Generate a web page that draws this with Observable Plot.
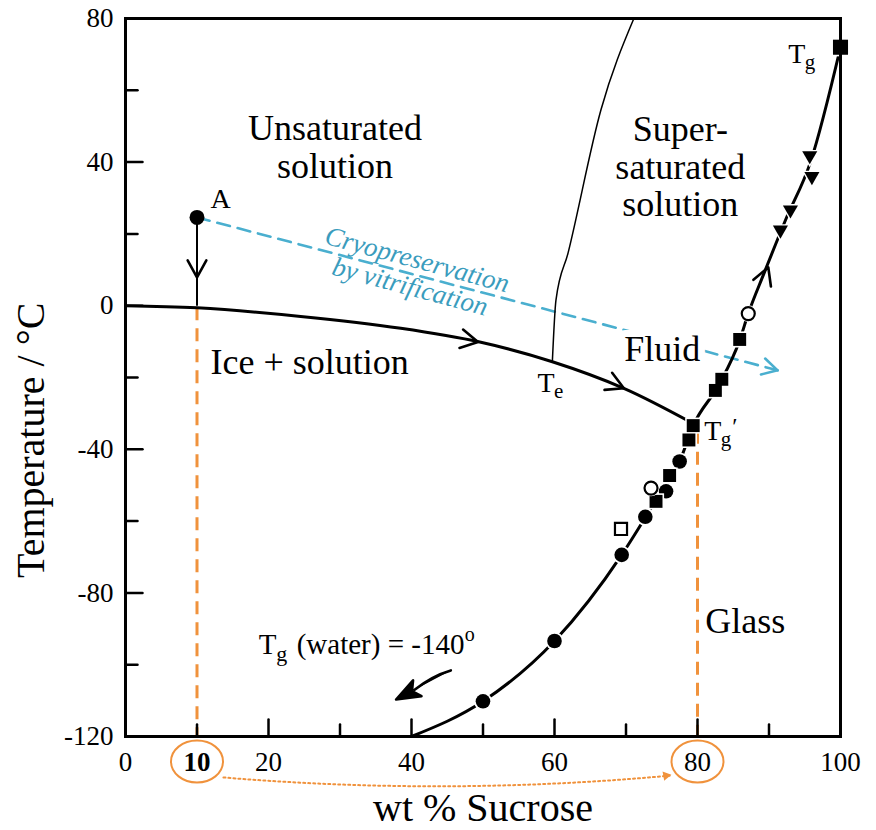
<!DOCTYPE html>
<html><head><meta charset="utf-8">
<script src="https://cdn.jsdelivr.net/npm/d3@7"></script>
<script src="https://cdn.jsdelivr.net/npm/@observablehq/plot@0.6"></script>
<style>body{margin:0;background:#fff;}</style>
</head><body><div id="chart"></div>
<script>
// ---------- data (wt % sucrose, temperature °C) ----------
const liquidusX = [0, 10, 24.5, 38.5, 49.7, 59.7, 69.7, 79.4];
const liquidusT = [0, -0.6, -3.0, -6.3, -10.2, -15.6, -23.0, -32.8];
const solubilityX = [59.7, 60.2, 61.9, 66.5, 71.1];
const solubilityT = [-15.6, 1.5, 14.7, 54.6, 80];
const glassX = [40, 50, 60, 69.4, 72.7, 75, 77.5, 79.4, 83, 85.9, 87.1, 89.3, 92.3, 95.8, 100];
const glassT = [-120, -110.2, -93.4, -69.4, -59, -51.5, -43.4, -33.4, -22, -9.6, -2.2, 9, 23.8, 40, 72];

const filledCircleX = [50, 60, 69.4, 72.7, 75.6, 77.5];
const filledCircleT = [-110.2, -93.4, -69.4, -58.8, -51.7, -43.4];
const filledSquareX = [74.2, 76.1, 78.8, 79.4, 82.5, 83.4, 85.9];
const filledSquareT = [-54.5, -47.3, -37.4, -33.4, -23.6, -20.5, -9.4];
const openCircleX = [73.5, 87.1];
const openCircleT = [-50.8, -2.2];
const openSquareX = [69.3];
const openSquareT = [-62.2];
const triangleX = [91.6, 93, 95.7, 96];
const triangleT = [21.1, 26.7, 41.8, 36];
const tgSucroseX = [100];
const tgSucroseT = [72];

const pointAX = [10], pointAT = [24.6];
const vitrificationX = [10, 91.2];
const vitrificationT = [24.6, -18];
const guideX = [10, 80];
const guideTopT = [-0.6, -35];

const xMajorTicks = [0, 20, 40, 60, 80, 100];
const xMinorTicks = [10, 30, 50, 70, 90];
const yMajorTicks = [-120, -80, -40, 0, 40, 80];
const yMinorTicks = [-100, -60, -20, 20, 60];
const xTickLabels = [0, 20, 40, 60, 80, 100];
const xBoldLabels = [10];
const yTickLabels = [-120, -80, -40, 0, 40, 80];

// ---------- styling ----------
const FONT = "'Liberation Serif', 'Times New Roman', serif";
const BLUE = "#4aafcf", BLUE_TEXT = "#3a9cbd", ORANGE = "#f0923c";
const table = (X, Y) => X.map((x, i) => ({x, y: Y[i]}));

const tickShape = {draw(ctx, l) { ctx.moveTo(0, 0); ctx.lineTo(0, -l); }};
const chevron = {draw(ctx, l) { ctx.moveTo(-0.55 * l, l); ctx.lineTo(0, 0); ctx.lineTo(0.55 * l, l); }};
const fatArrow = {draw(ctx, l) {
  const h = 24, w = 9;
  ctx.moveTo(0, 0); ctx.quadraticCurveTo(4, -(l - h) / 2, 0, -(l - h) - 3);
  ctx.moveTo(0, -l); ctx.lineTo(-w, -l + h); ctx.lineTo(0, -l + h - 6); ctx.lineTo(w, -l + h); ctx.closePath();
}};
const ellipse = {draw(ctx) {
  const rx = 26, ry = 21, k = 0.5523;
  ctx.moveTo(rx, 0);
  ctx.bezierCurveTo(rx, ry * k, rx * k, ry, 0, ry);
  ctx.bezierCurveTo(-rx * k, ry, -rx, ry * k, -rx, 0);
  ctx.bezierCurveTo(-rx, -ry * k, -rx * k, -ry, 0, -ry);
  ctx.bezierCurveTo(rx * k, -ry, rx, -ry * k, rx, 0);
  ctx.closePath();
}};

function markers(X, Y, opts) {
  const d = table(X, Y);
  return [
    Plot.dot(d, {x: "x", y: "y", symbol: opts.symbol, r: opts.r + 1.8, rotate: opts.rotate || 0, fill: "white", stroke: "none"}),
    Plot.dot(d, {x: "x", y: "y", strokeWidth: 2.2, ...opts})
  ];
}

const txt = (s, o) => Plot.text([s], {text: d => d, fontFamily: FONT, fill: "black", ...o});

const chart = Plot.plot({
  width: 876, height: 830,
  marginLeft: 125, marginRight: 36, marginTop: 18, marginBottom: 94,
  x: {domain: [0, 100], axis: null},
  y: {domain: [-120, 80], axis: null},
  style: {fontFamily: FONT, background: "white", overflow: "visible"},
  marks: [
    // orange guide lines
    Plot.ruleX(guideX.map((x, i) => ({x, y1: guideTopT[i]})), {x: "x", y1: "y1", y2: () => -120, stroke: ORANGE, strokeWidth: 3, strokeDasharray: "13,8"}),
    // blue vitrification path
    Plot.line(table(vitrificationX, vitrificationT), {x: "x", y: "y", stroke: BLUE, strokeWidth: 2.6, strokeDasharray: "13,8"}),
    Plot.vector([{x: vitrificationX[1], y: vitrificationT[1]}], {x: "x", y: "y", length: 15, rotate: 104.7, anchor: "start", shape: chevron, stroke: BLUE, strokeWidth: 2.6}),
    txt("Cryopreservation", {x: () => 40.8, y: () => 12.8, rotate: 15, fontSize: 27, fontStyle: "italic", fill: BLUE_TEXT}),
    txt("by vitrification", {x: () => 39.8, y: () => 5.3, rotate: 15, fontSize: 27, fontStyle: "italic", fill: BLUE_TEXT}),
    // curves
    Plot.line(table(solubilityX, solubilityT), {x: "x", y: "y", curve: "monotone-x", stroke: "black", strokeWidth: 1.5}),
    Plot.line(table(liquidusX, liquidusT), {x: "x", y: "y", curve: "catmull-rom", stroke: "black", strokeWidth: 3}),
    Plot.line(table(glassX, glassT), {x: "x", y: "y", curve: "monotone-x", stroke: "black", strokeWidth: 3}),
    // direction arrows (open chevrons)
    Plot.vector([{x: 49.3, y: -10.1, a: 101}, {x: 69.7, y: -23.0, a: 114}, {x: 10, y: 7.9, a: 180}, {x: 89.9, y: 10.7, a: 21}],
      {x: "x", y: "y", rotate: "a", length: 17, anchor: "start", shape: chevron, stroke: "black", strokeWidth: 2.6}),
    // A
    Plot.link([{x: pointAX[0], y1: pointAT[0], y2: 0}], {x1: "x", x2: "x", y1: "y1", y2: "y2", stroke: "black", strokeWidth: 2}),
    Plot.dot(table(pointAX, pointAT), {x: "x", y: "y", r: 7.5, fill: "black"}),
    // data markers
    ...markers(filledCircleX, filledCircleT, {symbol: "circle", r: 7.3, fill: "black", stroke: "none"}),
    ...markers(filledSquareX, filledSquareT, {symbol: "square", r: 7.3, fill: "black", stroke: "none"}),
    ...markers(openSquareX, openSquareT, {symbol: "square", r: 6.8, fill: "white", stroke: "black"}),
    ...markers(openCircleX, openCircleT, {symbol: "circle", r: 6.5, fill: "white", stroke: "black"}),
    ...markers(triangleX, triangleT, {symbol: "triangle", r: 5.6, rotate: 180, fill: "black", stroke: "none"}),
    ...markers(tgSucroseX, tgSucroseT, {symbol: "square", r: 8.5, fill: "black", stroke: "none"}),
    // frame and ticks
    Plot.frame({stroke: "black", strokeWidth: 3}),
    Plot.vector(xMajorTicks, {x: d => d, frameAnchor: "bottom", length: 17, anchor: "start", shape: tickShape, stroke: "black", strokeWidth: 2.5}),
    Plot.vector(xMinorTicks, {x: d => d, frameAnchor: "bottom", length: 12, anchor: "start", shape: tickShape, stroke: "black", strokeWidth: 2.5}),
    Plot.vector(yMajorTicks, {y: d => d, frameAnchor: "left", length: 17, rotate: 90, anchor: "start", shape: tickShape, stroke: "black", strokeWidth: 2.5}),
    Plot.vector(yMinorTicks, {y: d => d, frameAnchor: "left", length: 12, rotate: 90, anchor: "start", shape: tickShape, stroke: "black", strokeWidth: 2.5}),
    // tick labels
    Plot.text(xTickLabels, {x: d => d, text: d => String(d), frameAnchor: "bottom", dy: 34, lineAnchor: "bottom", fontSize: 27, fontFamily: FONT, fill: "black"}),
    Plot.text(xBoldLabels, {x: d => d, text: d => String(d), frameAnchor: "bottom", dy: 34, lineAnchor: "bottom", fontSize: 27, fontWeight: "bold", fontFamily: FONT, fill: "black"}),
    Plot.text(yTickLabels, {y: d => d, text: d => String(d), frameAnchor: "left", dx: -12, textAnchor: "end", fontSize: 27, fontFamily: FONT, fill: "black"}),
    // orange ellipses and dotted arrow
    Plot.dot(guideX, {x: d => d, frameAnchor: "bottom", dy: 25, symbol: ellipse, stroke: ORANGE, strokeWidth: 2, fill: "none"}),
    Plot.arrow([{x1: 13.7, x2: 76.1, y1: -131.4, y2: -130.9}], {x1: "x1", y1: "y1", x2: "x2", y2: "y2", bend: -5, headLength: 0, stroke: ORANGE, strokeWidth: 2, strokeDasharray: "2,3"}),
    Plot.dot([{x: 75.6, y: -130.9}], {x: "x", y: "y", symbol: "triangle", r: 3.5, rotate: 80, fill: ORANGE}),
    // axis titles
    txt("wt % Sucrose", {x: () => 50, frameAnchor: "bottom", dy: 84, lineAnchor: "bottom", textAnchor: "middle", fontSize: 40}),
    txt("Temperature / °C", {y: () => -37.5, frameAnchor: "left", dx: -94, rotate: -90, textAnchor: "middle", fontSize: 40}),
    // region labels
    txt("Unsaturated\nsolution", {x: () => 29.3, y: () => 35.7, lineAnchor: "bottom", lineHeight: 1.03, fontSize: 36}),
    txt("Super-\nsaturated\nsolution", {x: () => 77.6, y: () => 25.1, lineAnchor: "bottom", lineHeight: 1.03, fontSize: 36}),
    txt("Ice + solution", {x: () => 11.9, y: () => -18.9, lineAnchor: "bottom", textAnchor: "start", fontSize: 36}),
    txt("Fluid", {x: () => 69.75, y: () => -15.3, lineAnchor: "bottom", textAnchor: "start", fontSize: 36, stroke: "white", strokeWidth: 14}),
    txt("Glass", {x: () => 81.1, y: () => -91.2, lineAnchor: "bottom", textAnchor: "start", fontSize: 36}),
    txt("A", {x: () => 11.9, y: () => 27.1, lineAnchor: "bottom", textAnchor: "start", fontSize: 28}),
    // T_e
    txt("T", {x: () => 57.63, y: () => -24.1, lineAnchor: "bottom", textAnchor: "start", fontSize: 28}),
    txt("e", {x: () => 57.63, y: () => -24.1, dx: 16.5, dy: 6, lineAnchor: "bottom", textAnchor: "start", fontSize: 21}),
    // T_g'
    txt("T", {x: () => 80.95, y: () => -37.5, lineAnchor: "bottom", textAnchor: "start", fontSize: 28}),
    txt("g", {x: () => 80.95, y: () => -37.5, dx: 16.5, dy: 6, lineAnchor: "bottom", textAnchor: "start", fontSize: 21}),
    txt("′", {x: () => 80.95, y: () => -37.5, dx: 28, dy: -6, lineAnchor: "bottom", textAnchor: "start", fontSize: 24}),
    // T_g (sucrose)
    txt("T", {x: () => 92.68, y: () => 67.5, lineAnchor: "bottom", textAnchor: "start", fontSize: 28}),
    txt("g", {x: () => 92.68, y: () => 67.5, dx: 16.5, dy: 6, lineAnchor: "bottom", textAnchor: "start", fontSize: 21}),
    // T_g (water)
    txt("T", {x: () => 18.63, y: () => -96.9, lineAnchor: "bottom", textAnchor: "start", fontSize: 29}),
    txt("g", {x: () => 18.63, y: () => -96.9, dx: 17.5, dy: 7, lineAnchor: "bottom", textAnchor: "start", fontSize: 22}),
    txt("(water) = -140", {x: () => 18.63, y: () => -96.9, dx: 38, lineAnchor: "bottom", textAnchor: "start", fontSize: 29}),
    txt("o", {x: () => 18.63, y: () => -96.9, dx: 206, dy: -13, lineAnchor: "bottom", textAnchor: "start", fontSize: 20}),
    Plot.vector([{x: 45.5, y: -101.6}], {x: "x", y: "y", length: 62, rotate: 242, anchor: "start", shape: fatArrow, stroke: "black", fill: "black", strokeWidth: 2.6})
  ]
});
document.getElementById("chart").append(chart);
</script>
</body></html>
